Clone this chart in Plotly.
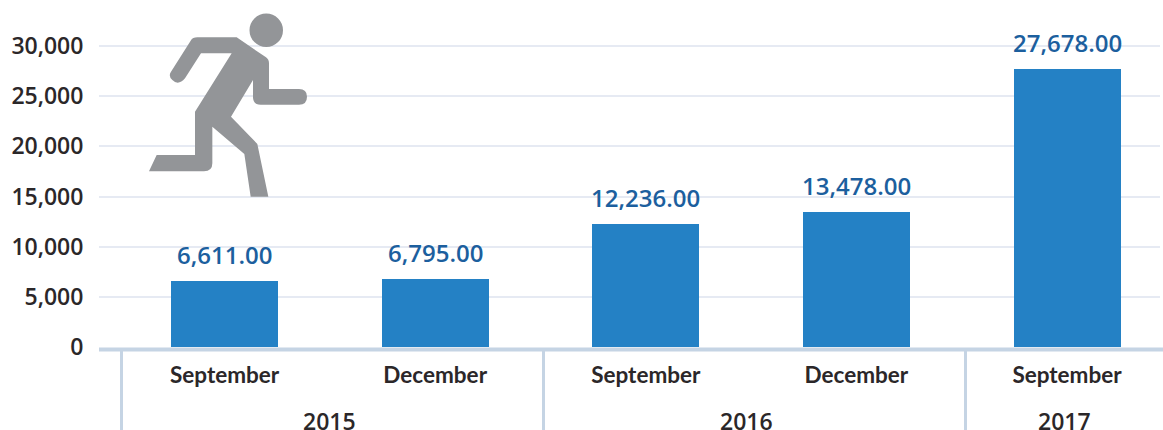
import plotly.graph_objects as go

months = ["September", "December", "September", "December", "September"]
values = [6611, 6795, 12236, 13478, 27678]
value_labels = ["6,611.00", "6,795.00", "12,236.00", "13,478.00", "27,678.00"]
years = ["2015", "2016", "2017"]
year_centres = [0.5, 2.48, 3.99]
y_ticks = [0, 5000, 10000, 15000, 20000, 25000, 30000]
y_tick_text = ["0", "5,000", "10,000", "15,000", "20,000", "25,000", "30,000"]

W, H = 1163, 430
L, R, T, BOT = 99, 1160, 8, 347
X0, STEP = 224.6, 210.6
PX_PER_UNIT = (347 - 46) / 30000


def px(v):
    return (v - L) / (R - L)


def py(v):
    return (BOT - v) / (BOT - T)


def icon_path(points):
    """Runner pictogram outline, given as zoom-crop pixels (3x)."""
    out = []
    for cmd, *coords in points:
        vals = []
        for i in range(0, len(coords), 2):
            vals.append(f"{px(coords[i] / 3):.5f},{py(coords[i + 1] / 3):.5f}")
        out.append(cmd + " ".join(vals))
    return " ".join(out) + " Z"


runner = [
    ("M", 513, 215), ("L", 572, 122), ("Q", 578, 112, 592, 112), ("L", 710, 112),
    ("L", 798, 172), ("Q", 807, 178, 807, 190), ("L", 807, 267), ("L", 897, 267),
    ("Q", 921, 267, 921, 290), ("Q", 921, 314, 897, 314), ("L", 782, 314),
    ("Q", 759, 314, 759, 292), ("L", 759, 240), ("L", 693, 350), ("L", 772, 432),
    ("L", 805, 590), ("L", 752, 590), ("L", 733, 462), ("L", 637, 380),
    ("L", 637, 490), ("Q", 637, 514, 612, 514), ("L", 447, 514), ("L", 470, 465),
    ("L", 585, 465), ("L", 585, 335), ("L", 695, 160), ("L", 603, 160),
    ("L", 555, 235), ("Q", 535, 258, 517, 240), ("Q", 504, 228, 513, 215),
]

positions = list(range(len(values)))
fig = go.Figure(go.Bar(x=positions, y=values, width=107 / STEP,
                       marker=dict(color="#2481c5", line_width=0), showlegend=False))

TEXT = "#2b2729"
shapes = [
    dict(type="line", xref="paper", yref="paper", x0=0, x1=(W - L) / (R - L),
         y0=py(349.5), y1=py(349.5), line=dict(color="#c5d4e4", width=4)),
    dict(type="path", xref="paper", yref="paper", path=icon_path(runner),
         fillcolor="#939598", line_width=0),
    dict(type="circle", xref="paper", yref="paper", x0=px(249.5), x1=px(283),
         y0=py(13.5), y1=py(47), fillcolor="#939598", line_width=0),
]
for sep in (121.5, 543.5, 965.5):
    shapes.append(dict(type="line", xref="paper", yref="paper", x0=px(sep), x1=px(sep),
                       y0=py(350), y1=py(430), line=dict(color="#c5d4e4", width=3)))

annotations = [
    dict(x=p, y=v, text=t, xref="x", yref="y", showarrow=False, yanchor="bottom", yshift=8,
         font=dict(family="Open Sans", size=24, color="#1c5f9e", weight=600))
    for p, v, t in zip(positions, values, value_labels)
]
annotations += [
    dict(x=c, y=py(421), text=t, xref="x", yref="paper", showarrow=False,
         xanchor="center", yanchor="middle",
         font=dict(family="Open Sans", size=23, color=TEXT, weight=600))
    for c, t in zip(year_centres, years)
]

fig.update_layout(
    width=W, height=H, autosize=False, bargap=0,
    margin=dict(l=L, r=W - R, t=T, b=H - BOT, pad=0),
    paper_bgcolor="white", plot_bgcolor="white",
    shapes=shapes, annotations=annotations,
    xaxis=dict(range=[(L - X0) / STEP, (R - X0) / STEP], tickmode="array",
               tickvals=positions, ticktext=months, showgrid=False, zeroline=False,
               showline=False, ticks="outside", ticklen=8, tickcolor="rgba(0,0,0,0)",
               tickfont=dict(family="Lato", size=22.5, color=TEXT, weight=700)),
    yaxis=dict(range=[0, (BOT - T) / PX_PER_UNIT], tickmode="array", tickvals=y_ticks,
               ticktext=y_tick_text, showgrid=True, gridcolor="#e6eaf3", gridwidth=2,
               zeroline=False, showline=False, ticks="outside", ticklen=10,
               tickcolor="rgba(0,0,0,0)",
               tickfont=dict(family="Open Sans", size=23, color=TEXT, weight=600)),
)
fig.write_html("out.html", config=dict(displayModeBar=False),
               post_script="document.body.style.margin='0';")
